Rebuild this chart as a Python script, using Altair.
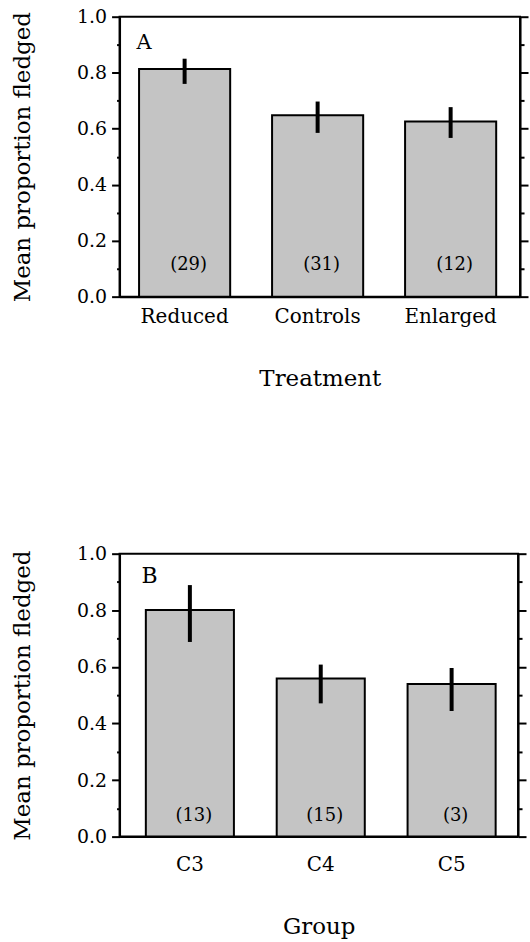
import altair as alt
import pandas as pd

# Panel A data
treatments = ["Reduced", "Controls", "Enlarged"]
mean_a = [0.813, 0.648, 0.626]
low_a = [0.760, 0.585, 0.567]
high_a = [0.850, 0.697, 0.677]
n_a = [29, 31, 12]

# Panel B data
groups = ["C3", "C4", "C5"]
mean_b = [0.801, 0.559, 0.539]
low_b = [0.688, 0.471, 0.444]
high_b = [0.889, 0.608, 0.596]
n_b = [13, 15, 3]

y_ticks = [0.0, 0.1, 0.2, 0.3, 0.4, 0.5, 0.6, 0.7, 0.8, 0.9, 1.0]

FONT = "DejaVu Serif"
MAJOR = "round(datum.value * 10) % 2 == 0"


def panel(cats, means, lows, highs, ns, letter, xtitle, width, height,
          label_pad, pad_inner, pad_outer, align, count_y, letter_x, letter_y, letter_size):
    df = pd.DataFrame({
        "cat": cats, "mean": means, "low": lows, "high": highs,
        "n": ["(%d)" % v for v in ns],
    })
    base = alt.Chart(df)
    xscale = alt.Scale(domain=cats, paddingInner=pad_inner, paddingOuter=pad_outer, align=align)
    x = alt.X("cat:N", scale=xscale, sort=cats,
              axis=alt.Axis(title=xtitle, labelAngle=0, ticks=False, tickSize=0,
                            labelPadding=label_pad, titlePadding=41, labelFontSize=20,
                            titleFontSize=23, domainWidth=2))
    yscale = alt.Scale(domain=[0, 1], nice=False, zero=True)
    yleft = alt.Y("mean:Q", scale=yscale,
                  axis=alt.Axis(title="Mean proportion fledged", values=y_ticks,
                                labelExpr=MAJOR + " ? format(datum.value, '.1f') : ''",
                                tickSize={"condition": {"test": MAJOR, "value": 8}, "value": 3},
                                labelPadding=5, titlePadding=42, labelFontSize=19,
                                titleFontSize=23, domainWidth=2))
    yright = alt.Y("low:Q", scale=yscale,
                   axis=alt.Axis(orient="right", title=None, labels=False, values=y_ticks,
                                 tickSize={"condition": {"test": MAJOR, "value": 8}, "value": 4},
                                 domainWidth=2))
    bars = base.mark_bar(fill="#c4c4c4", stroke="black", strokeWidth=2).encode(x=x, y=yleft)
    err = base.mark_rule(color="black", strokeWidth=4).encode(x=x, y=yright, y2="high:Q")
    counts = base.mark_text(font=FONT, fontSize=18, baseline="middle", dx=4, color="black").encode(
        x=x, y=alt.value(count_y), text="n:N")
    lab = alt.Chart(pd.DataFrame({"t": [letter]})).mark_text(
        font=FONT, fontSize=letter_size, align="left", baseline="alphabetic", color="black"
    ).encode(x=alt.value(letter_x), y=alt.value(letter_y), text="t:N")
    return alt.layer(bars, err, counts, lab).resolve_axis(y="independent").properties(
        width=width, height=height)


pa = panel(treatments, mean_a, low_a, high_a, n_a, "A", "Treatment", 402, 281,
           10, 0.315, 0.163, 0.45, 249, 17, 32, 21)
pb = panel(groups, mean_b, low_b, high_b, n_b, "B", "Group", 400, 284,
           18, 0.327, 0.186, 0.54, 263, 22, 29, 22)

chart = alt.vconcat(pa, pb, spacing=153).properties(
    padding={"left": 10, "top": 5, "right": 0, "bottom": 0}
).configure_axis(
    labelFont=FONT, titleFont=FONT, labelColor="black", titleColor="black",
    domainColor="black", tickColor="black", tickWidth=2, grid=False,
    titleFontWeight="normal"
).configure_view(stroke="black", strokeWidth=2)

chart.save("out.html", embed_options={"renderer": "svg", "actions": False})
